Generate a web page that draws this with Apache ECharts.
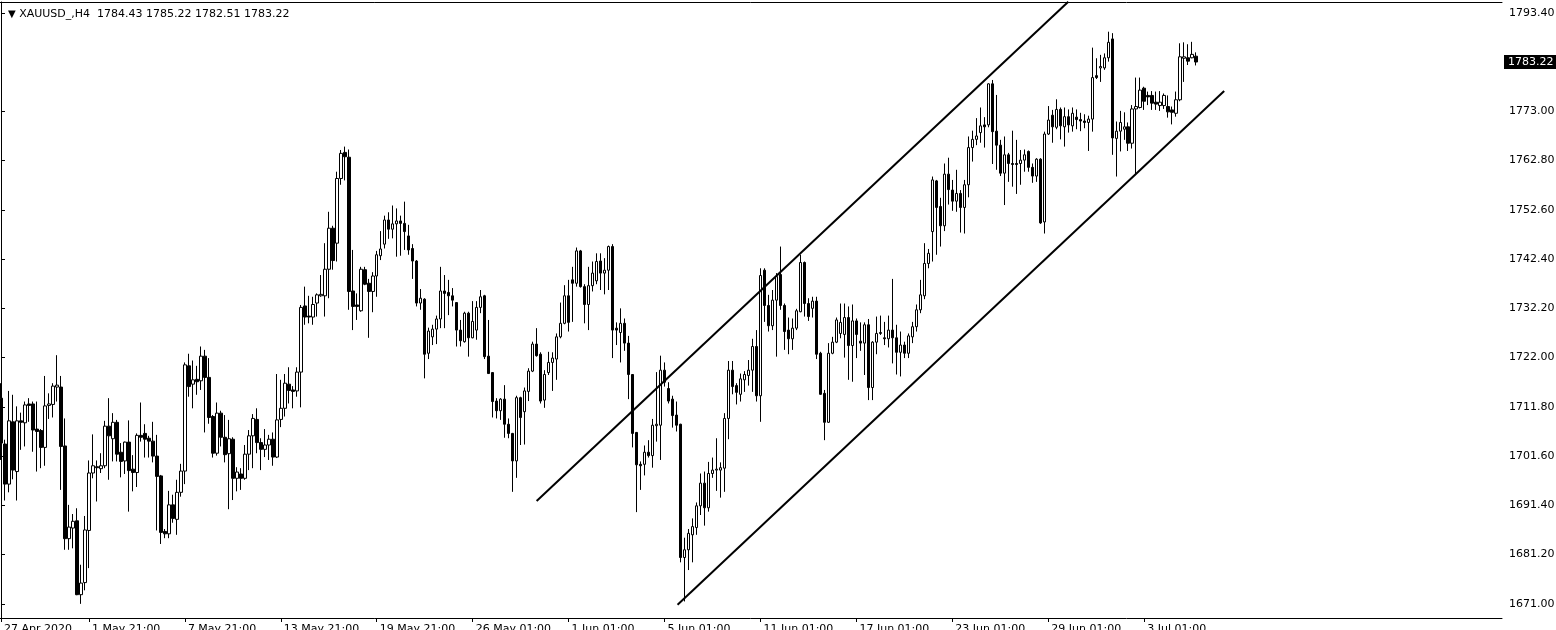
<!DOCTYPE html>
<html><head><meta charset="utf-8">
<script src="https://cdn.jsdelivr.net/npm/echarts@6/dist/echarts.min.js"></script>
<style>html,body{margin:0;padding:0;background:#fff}#c{width:1556px;height:630px}</style>
</head><body><div id="c"></div><script>
const symbolName = 'XAUUSD_,H4';
const lastOHLC = ['1784.43', '1785.22', '1782.51', '1783.22'];
const currentPrice = 1783.22;
const slotCount = 376;
const opens = [1713.6,1704.1,1695.8,1708.7,1698.4,1708.9,1708.5,1712.4,1712.4,1707.2,1706.9,1703.4,1712.1,1712.3,1715.9,1715.9,1703.7,1684.5,1686.7,1688.2,1672.9,1675.4,1686.2,1698.1,1699.4,1699.0,1699.6,1707.8,1705.2,1708.6,
1702.4,1700.6,1704.5,1698.9,1698.2,1705.9,1706.3,1705.3,1704.7,1701.6,1697.5,1686.0,1685.5,1691.5,1688.5,1694.1,1698.5,1720.3,1716.5,1717.5,1717.2,1722.3,1717.9,1709.8,1702.2,1710.5,1705.5,1702.1,1705.1,1697.0,
1697.9,1697.0,1702.0,1705.8,1709.2,1704.4,1703.0,1703.9,1705.1,1701.4,1709.2,1711.5,1716.5,1715.3,1715.1,1719.0,1732.7,1730.6,1730.4,1733.3,1734.8,1734.8,1740.3,1748.8,1745.7,1759.1,1764.5,1763.5,1735.8,1732.9,
1731.7,1740.2,1737.4,1735.7,1738.9,1743.1,1745.5,1750.5,1748.6,1749.7,1750.3,1749.8,1747.2,1744.6,1742.0,1733.3,1734.1,1722.9,1726.3,1727.9,1730.0,1735.8,1735.5,1734.8,1733.4,1727.7,1725.3,1731.2,1726.1,1727.7,
1732.4,1734.8,1722.3,1718.9,1713.0,1711.0,1713.4,1708.2,1706.3,1700.6,1713.7,1710.8,1715.0,1719.2,1724.8,1722.7,1713.2,1718.9,1721.0,1721.7,1726.3,1729.1,1734.8,1738.1,1737.4,1744.1,1736.7,1733.0,1736.9,1737.9,
1742.0,1739.5,1740.1,1745.0,1728.1,1727.2,1729.1,1725.0,1718.5,1706.5,1699.9,1699.9,1702.4,1701.7,1707.9,1708.0,1719.4,1715.6,1713.4,1710.1,1708.2,1680.6,1682.2,1685.3,1686.8,1691.3,1696.0,1690.9,1698.0,1698.7,
1698.7,1699.1,1709.4,1719.4,1716.2,1714.4,1717.4,1718.3,1719.4,1724.3,1714.1,1740.1,1732.8,1728.6,1733.9,1739.2,1732.8,1727.7,1725.9,1728.1,1731.5,1741.7,1733.2,1732.2,1733.7,1722.9,1714.6,1708.6,1722.9,1725.2,
1727.0,1726.8,1730.3,1724.5,1729.6,1725.4,1725.0,1728.8,1715.8,1725.2,1727.0,1726.1,1725.9,1727.7,1726.1,1723.1,1724.6,1722.9,1726.3,1728.4,1731.9,1734.8,1741.5,1748.1,1758.6,1753.3,1749.3,1760.0,1756.7,1754.4,
1756.0,1753.1,1757.8,1765.5,1767.2,1768.6,1770.2,1770.2,1778.7,1768.9,1766.0,1760.2,1764.0,1762.2,1762.2,1762.2,1762.9,1764.7,1761.4,1759.6,1763.1,1750.1,1768.3,1772.2,1769.7,1773.4,1769.8,1771.9,1770.0,1771.8,
1771.3,1771.0,1770.7,1771.4,1780.4,1782.0,1782.0,1784.1,1788.0,1767.4,1768.9,1769.3,1769.8,1766.4,1773.5,1773.8,1777.8,1776.3,1776.3,1774.9,1774.2,1774.2,1774.0,1773.3,1772.6,1775.4,1784.0,1784.1,1784.1,1784.43];
const highs = [1716.7,1705.0,1715.1,1714.3,1711.9,1710.6,1712.9,1713.6,1712.9,1712.9,1707.2,1718.2,1714.6,1716.7,1722.5,1718.2,1709.4,1691.5,1689.6,1690.8,1679.1,1689.2,1700.7,1706.1,1700.7,1702.2,1708.9,1713.6,1710.5,1709.1,
1704.3,1704.6,1709.0,1701.8,1706.3,1712.7,1708.2,1705.8,1708.7,1706.0,1697.7,1686.5,1694.4,1693.6,1696.7,1700.0,1721.0,1722.8,1721.4,1720.3,1724.3,1723.6,1721.9,1710.1,1712.7,1711.0,1710.1,1709.1,1705.5,1699.3,
1699.1,1703.9,1707.0,1710.3,1711.5,1705.3,1707.2,1706.0,1706.5,1718.6,1717.4,1718.6,1720.0,1716.1,1720.0,1732.9,1736.7,1734.8,1734.6,1735.3,1739.1,1745.7,1752.2,1749.3,1760.5,1765.0,1765.7,1765.1,1744.3,1735.3,
1740.8,1740.8,1738.3,1739.7,1744.1,1748.2,1751.4,1752.1,1753.5,1752.9,1751.4,1754.3,1749.5,1745.5,1742.2,1736.2,1734.3,1728.2,1728.8,1730.7,1740.8,1739.1,1738.1,1736.4,1733.5,1729.8,1731.5,1731.5,1733.7,1733.7,
1736.0,1735.0,1729.8,1719.0,1713.6,1713.6,1716.3,1709.4,1706.4,1714.1,1713.9,1715.8,1719.8,1725.3,1728.1,1723.1,1719.4,1723.2,1723.1,1727.0,1733.4,1737.0,1738.1,1740.8,1744.8,1744.3,1737.2,1740.8,1741.9,1743.6,
1743.6,1742.6,1745.2,1745.5,1729.3,1732.2,1730.1,1726.5,1718.6,1706.6,1700.5,1703.8,1704.9,1709.3,1719.0,1722.4,1721.0,1716.9,1714.1,1712.9,1708.3,1684.7,1686.5,1688.7,1692.0,1698.0,1698.4,1700.4,1701.3,1705.3,
1700.3,1710.5,1721.3,1721.3,1716.7,1718.7,1719.2,1721.5,1725.9,1727.7,1740.5,1740.5,1735.0,1736.0,1739.5,1745.0,1733.2,1730.3,1730.1,1732.1,1743.3,1741.9,1734.3,1734.6,1734.6,1723.2,1715.3,1725.0,1726.3,1730.3,
1733.2,1733.2,1732.6,1733.0,1730.1,1729.3,1729.3,1730.0,1725.4,1730.5,1730.7,1729.4,1730.7,1738.3,1728.8,1727.4,1725.3,1727.0,1729.4,1733.0,1738.1,1745.7,1744.5,1759.5,1758.8,1755.1,1762.2,1763.4,1758.8,1760.9,
1756.7,1758.8,1767.8,1769.0,1771.6,1773.8,1771.8,1778.8,1779.5,1776.4,1767.1,1767.8,1764.4,1769.0,1767.1,1765.0,1765.1,1764.9,1762.2,1763.3,1763.3,1768.8,1774.1,1773.3,1775.5,1773.8,1773.8,1773.4,1773.8,1773.4,
1772.7,1772.4,1772.1,1786.2,1784.0,1784.7,1785.0,1789.5,1789.2,1770.9,1773.1,1772.8,1770.7,1774.3,1780.0,1780.0,1778.1,1777.1,1777.2,1777.1,1777.2,1776.7,1776.3,1774.0,1777.1,1787.1,1787.3,1786.9,1787.4,1785.22];
const lows = [1700.8,1692.4,1694.1,1696.8,1692.4,1702.9,1703.6,1708.7,1702.5,1698.4,1699.1,1699.6,1709.3,1709.6,1712.9,1694.6,1682.2,1682.2,1682.5,1672.8,1671.0,1673.8,1678.4,1697.0,1692.2,1698.1,1699.1,1696.7,1700.5,1700.5,
1697.2,1697.9,1690.1,1694.3,1695.2,1704.6,1701.3,1701.3,1700.3,1686.2,1683.4,1684.6,1684.6,1687.8,1685.3,1693.2,1695.8,1713.9,1711.5,1714.3,1715.3,1706.5,1708.3,1701.3,1701.7,1703.6,1700.3,1690.6,1692.5,1694.3,
1694.6,1696.7,1698.7,1699.1,1702.2,1698.7,1701.4,1700.8,1699.6,1701.2,1707.6,1709.8,1712.5,1711.5,1713.9,1711.7,1728.8,1729.1,1728.8,1730.5,1734.6,1730.5,1734.3,1740.2,1741.9,1757.8,1758.7,1731.9,1727.7,1729.8,
1731.5,1737.0,1726.1,1731.4,1734.6,1742.2,1744.6,1746.6,1746.7,1742.9,1743.1,1744.3,1743.3,1738.3,1732.6,1731.9,1717.7,1721.7,1724.6,1724.8,1728.1,1728.1,1730.8,1732.6,1724.3,1724.3,1725.1,1722.2,1726.0,1725.7,
1731.2,1721.7,1718.6,1709.6,1709.4,1709.1,1705.4,1705.3,1694.2,1697.1,1703.9,1704.0,1713.0,1719.0,1722.2,1712.5,1711.6,1718.4,1715.1,1717.4,1726.0,1728.9,1727.4,1729.4,1736.7,1736.5,1729.1,1727.7,1735.7,1737.2,
1736.0,1735.1,1736.0,1721.9,1724.6,1721.0,1723.4,1713.4,1703.4,1690.0,1694.6,1697.6,1701.3,1699.2,1704.6,1700.8,1716.0,1712.5,1707.5,1706.7,1679.6,1671.5,1678.0,1679.6,1685.3,1689.4,1687.2,1690.1,1697.1,1694.4,
1693.0,1694.2,1705.1,1714.4,1712.3,1712.9,1714.9,1716.2,1714.9,1712.9,1708.7,1729.4,1727.4,1727.7,1722.2,1731.9,1723.6,1722.7,1723.6,1727.7,1731.4,1730.5,1729.6,1730.3,1721.7,1714.3,1704.9,1708.5,1722.7,1725.0,
1726.0,1722.0,1717.4,1717.0,1721.9,1723.4,1718.4,1713.2,1713.2,1722.7,1726.7,1724.6,1724.1,1720.8,1718.5,1718.1,1721.9,1721.9,1725.0,1727.4,1731.2,1734.1,1740.5,1741.9,1743.3,1745.0,1748.2,1753.7,1752.4,1752.2,
1747.9,1747.7,1755.2,1762.6,1766.0,1766.5,1765.5,1769.7,1762.1,1760.9,1759.6,1753.6,1758.4,1757.4,1755.9,1757.8,1760.5,1760.5,1758.2,1758.4,1749.7,1747.7,1768.1,1766.5,1769.3,1767.2,1765.7,1768.6,1768.8,1769.3,
1768.9,1769.5,1764.8,1768.8,1779.7,1779.1,1781.6,1783.3,1764.0,1759.5,1764.7,1767.1,1764.8,1765.3,1759.8,1773.6,1773.3,1774.3,1773.3,1773.3,1773.1,1773.5,1771.7,1770.3,1771.9,1775.1,1779.1,1782.6,1784.0,1782.51];
const closes = [1704.3,1695.8,1708.9,1698.7,1708.9,1708.6,1712.2,1712.1,1707.0,1706.7,1703.4,1712.0,1712.4,1716.1,1716.3,1703.6,1684.5,1686.9,1688.1,1672.9,1675.3,1686.3,1698.1,1699.6,1699.2,1699.6,1707.8,1705.8,1708.6,1702.0,
1700.5,1704.5,1698.6,1698.2,1705.9,1705.5,1705.1,1704.7,1701.6,1697.4,1685.8,1685.5,1691.5,1688.7,1694.1,1698.5,1720.5,1716.0,1717.4,1717.0,1722.3,1717.9,1709.6,1702.2,1710.5,1705.5,1701.9,1705.2,1697.0,1698.3,
1697.0,1702.0,1705.8,1709.4,1704.4,1703.0,1703.9,1705.1,1701.4,1709.1,1711.5,1716.7,1715.2,1715.0,1719.0,1732.4,1730.4,1730.4,1733.0,1735.0,1735.1,1740.3,1748.8,1742.1,1759.1,1764.3,1763.6,1735.7,1732.6,1732.6,
1740.3,1737.2,1735.7,1738.9,1743.3,1744.5,1750.5,1748.6,1749.7,1750.3,1749.8,1748.1,1744.3,1742.0,1733.3,1734.3,1722.7,1727.5,1727.9,1730.0,1735.8,1735.3,1734.8,1733.9,1727.7,1725.5,1731.2,1726.1,1729.5,1732.4,
1734.6,1722.2,1718.7,1712.9,1711.0,1713.4,1708.2,1706.3,1700.6,1713.7,1709.6,1715.1,1719.2,1724.8,1722.4,1713.0,1718.5,1721.0,1721.9,1726.3,1729.1,1734.8,1729.3,1737.4,1744.1,1736.7,1733.0,1736.9,1739.5,1741.9,
1739.5,1740.1,1745.0,1727.7,1727.7,1729.1,1725.0,1718.5,1706.3,1699.8,1699.6,1702.4,1701.7,1708.0,1708.2,1719.4,1716.9,1713.0,1710.0,1708.0,1680.6,1682.2,1685.6,1687.0,1691.3,1696.0,1690.9,1698.0,1698.7,1698.9,
1699.2,1709.4,1719.4,1716.0,1714.8,1717.6,1718.5,1719.4,1724.3,1714.1,1739.0,1732.8,1728.6,1733.9,1738.8,1732.8,1727.4,1725.9,1728.1,1731.7,1741.7,1733.2,1730.5,1733.7,1722.7,1714.4,1708.6,1722.9,1725.2,1729.8,
1729.3,1730.3,1724.5,1729.6,1726.8,1725.0,1728.8,1715.8,1725.2,1727.0,1727.2,1725.9,1727.7,1726.1,1723.1,1724.6,1722.9,1726.5,1728.4,1731.9,1735.0,1741.5,1743.6,1758.8,1753.1,1749.3,1760.0,1756.8,1754.4,1756.0,
1753.1,1757.8,1765.5,1767.2,1767.9,1770.0,1769.8,1778.7,1768.8,1766.0,1760.2,1764.0,1762.2,1762.0,1762.0,1762.9,1764.0,1761.4,1759.6,1763.1,1749.9,1768.3,1771.2,1769.8,1773.4,1770.0,1771.9,1770.2,1772.6,1771.3,
1771.0,1770.7,1771.4,1780.0,1780.0,1782.3,1784.1,1787.3,1767.5,1768.9,1770.7,1769.8,1766.4,1773.5,1774.0,1777.4,1775.1,1776.0,1774.7,1774.5,1774.9,1776.3,1772.9,1772.8,1775.4,1784.3,1784.3,1783.4,1784.8,1783.22];
const timeTickIndex = [0, 22, 46, 70, 94, 118, 142, 166, 190, 214, 238, 262, 286];
const timeTickLabels = ['27 Apr 2020', '1 May 21:00', '7 May 21:00', '13 May 21:00', '19 May 21:00', '26 May 01:00', '1 Jun 01:00', '5 Jun 01:00', '11 Jun 01:00', '17 Jun 01:00', '23 Jun 01:00', '29 Jun 01:00', '3 Jul 01:00'];
const priceTicks = [1671.00, 1681.20, 1691.40, 1701.60, 1711.80, 1722.00, 1732.20, 1742.40, 1752.60, 1762.80, 1773.00, 1793.40];
const priceAxisMin = 1668.07;
const priceAxisMax = 1795.65;
const upperChannel = [[134, 1692.3], [267, 1795.7]];
const lowerChannel = [[169.25, 1670.8], [306, 1777.2]];

const categories = Array.from({length: slotCount}, (_, i) => String(i));
const tickMap = {};
timeTickIndex.forEach((idx, j) => { tickMap[idx] = timeTickLabels[j]; });
const candleData = opens.map((o, i) => [o, closes[i], lows[i], highs[i]]);
const FONT = 'DejaVu Sans';

const chart = echarts.init(document.getElementById('c'), null, {renderer: 'canvas'});
chart.setOption({
  animation: false,
  backgroundColor: '#ffffff',
  title: {
    text: '{tri|▼} ' + symbolName + '  ' + lastOHLC.join(' '),
    left: 3, top: 4,
    textStyle: {fontFamily: FONT, fontSize: 11, fontWeight: 'normal', color: '#000',
      rich: {tri: {fontSize: 10, color: '#000', fontFamily: FONT}}}
  },
  grid: {left: -1, right: 54, top: 2, bottom: 12, show: false, containLabel: false, outerBoundsMode: 'none'},
  xAxis: [{
    type: 'category', data: categories, boundaryGap: true,
    axisLine: {show: true, lineStyle: {color: '#000', width: 1}},
    axisTick: {show: true, alignWithLabel: true, length: 4, lineStyle: {color: '#000'},
      interval: (i) => tickMap[i] !== undefined},
    axisLabel: {show: true, interval: (i) => tickMap[i] !== undefined,
      formatter: (v, i) => tickMap[i] || '', align: 'left', margin: 6, padding: [0, 0, 0, 3],
      color: '#000', fontSize: 11, fontFamily: FONT},
    splitLine: {show: false}
  }, {
    type: 'value', min: -0.5, max: slotCount - 0.5, show: false
  }, {
    type: 'value', position: 'top', min: 0, max: 1,
    axisLine: {show: true, lineStyle: {color: '#000', width: 1}},
    axisTick: {show: false}, axisLabel: {show: false}, splitLine: {show: false}
  }],
  yAxis: {
    type: 'value', position: 'right', min: priceAxisMin, max: priceAxisMax, scale: true,
    axisLine: {show: true, lineStyle: {color: '#000', width: 1}},
    axisTick: {show: true, length: 4, inside: false, lineStyle: {color: '#000'}, customValues: priceTicks},
    axisLabel: {show: true, customValues: priceTicks, formatter: (v) => Number(v).toFixed(2),
      margin: 7, color: '#000', fontSize: 11, fontFamily: FONT},
    splitLine: {show: false}
  },
  series: [{
    type: 'candlestick', data: candleData, barWidth: 3,
    itemStyle: {color: '#ffffff', color0: '#000000', borderColor: '#000000', borderColor0: '#000000', borderWidth: 1},
    markLine: {
      silent: true, symbol: ['none', 'none'],
      lineStyle: {color: 'rgba(0,0,0,0)', width: 1},
      label: {show: true, position: 'end', distance: 2, formatter: () => currentPrice.toFixed(2),
        color: '#fff', backgroundColor: '#000', padding: [2, 4, 1, 4], fontSize: 11, fontFamily: FONT},
      data: [{yAxis: currentPrice}]
    }
  }, {
    type: 'line', xAxisIndex: 1, data: upperChannel, symbol: 'none', clip: true,
    lineStyle: {color: '#000', width: 2}
  }, {
    type: 'line', xAxisIndex: 1, data: lowerChannel, symbol: 'none', clip: true,
    lineStyle: {color: '#000', width: 2}
  }]
});
</script></body></html>
